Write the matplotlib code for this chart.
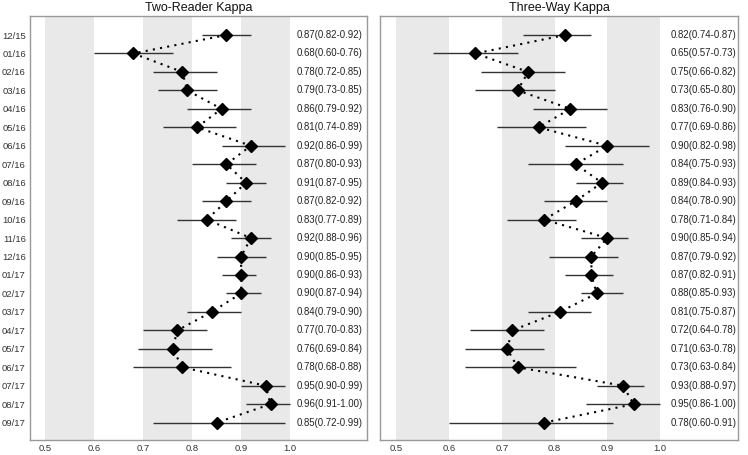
import matplotlib.pyplot as plt

plt.rcParams['font.family'] = ['Liberation Sans', 'DejaVu Sans']

months = ['12/15', '01/16', '02/16', '03/16', '04/16', '05/16', '06/16', '07/16', '08/16', '09/16', '10/16',
          '11/16', '12/16', '01/17', '02/17', '03/17', '04/17', '05/17', '06/17', '07/17', '08/17', '09/17']

two_est = [0.87, 0.68, 0.78, 0.79, 0.86, 0.81, 0.92, 0.87, 0.91, 0.87, 0.83,
           0.92, 0.90, 0.90, 0.90, 0.84, 0.77, 0.76, 0.78, 0.95, 0.96, 0.85]
two_low = [0.82, 0.60, 0.72, 0.73, 0.79, 0.74, 0.86, 0.80, 0.87, 0.82, 0.77,
           0.88, 0.85, 0.86, 0.87, 0.79, 0.70, 0.69, 0.68, 0.90, 0.91, 0.72]
two_high = [0.92, 0.76, 0.85, 0.85, 0.92, 0.89, 0.99, 0.93, 0.95, 0.92, 0.89,
            0.96, 0.95, 0.93, 0.94, 0.90, 0.83, 0.84, 0.88, 0.99, 1.00, 0.99]

three_est = [0.82, 0.65, 0.75, 0.73, 0.83, 0.77, 0.90, 0.84, 0.89, 0.84, 0.78,
             0.90, 0.87, 0.87, 0.88, 0.81, 0.72, 0.71, 0.73, 0.93, 0.95, 0.78]
three_low = [0.74, 0.57, 0.66, 0.65, 0.76, 0.69, 0.82, 0.75, 0.84, 0.78, 0.71,
             0.85, 0.79, 0.82, 0.85, 0.75, 0.64, 0.63, 0.63, 0.88, 0.86, 0.60]
three_high = [0.87, 0.73, 0.82, 0.80, 0.90, 0.86, 0.98, 0.93, 0.93, 0.90, 0.84,
              0.94, 0.92, 0.91, 0.93, 0.87, 0.78, 0.78, 0.84, 0.97, 1.00, 0.91]

ticks = [0.5, 0.6, 0.7, 0.8, 0.9, 1.0]
bands = [(0.5, 0.6), (0.7, 0.8), (0.9, 1.0)]

W, H = 748, 455
fig = plt.figure(figsize=(W / 100, H / 100), dpi=100)


def panel(rect, title, est, low, high, xmax, text_x, show_labels):
    ax = fig.add_axes(rect)
    rows = list(range(len(months)))
    for a, b in bands:
        ax.axvspan(a, b, color='#e9e9e9', lw=0, zorder=0)
    ax.hlines(rows, low, high, color='#333333', lw=1.0, zorder=2)
    ax.plot(est, rows, color='black', linestyle=(0, (1, 2.5)), lw=1.5, zorder=3)
    ax.plot(est, rows, linestyle='none', marker='D', color='black', markersize=6.5, zorder=4)
    for i in rows:
        ax.text(text_x, i, f'{est[i]:.2f}({low[i]:.2f}-{high[i]:.2f})', va='center', ha='left',
                fontsize=6.9, color='#222222')
    ax.set_xlim(0.469, xmax)
    ax.set_ylim(len(months) - 0.06, -1.03)
    ax.set_xticks(ticks)
    ax.set_xticklabels([f'{t:.1f}' for t in ticks])
    ax.set_yticks(rows)
    if show_labels:
        ax.set_yticklabels(months)
    else:
        ax.set_yticklabels([])
    ax.tick_params(length=0, labelsize=6.8, colors='#333333', pad=3)
    for s in ax.spines.values():
        s.set_color('#999999')
        s.set_linewidth(1.0)
    ax.set_title(title, fontsize=9.0, color='#111111', pad=3.5)
    return ax


bottom = (H - 440) / H
height = (440 - 16) / H
panel([30 / W, bottom, (367 - 30) / W, height], 'Two-Reader Kappa', two_est, two_low, two_high, 1.157, 1.013, True)
panel([380 / W, bottom, (738 - 380) / W, height], 'Three-Way Kappa', three_est, three_low, three_high, 1.148, 1.020, False)

fig.savefig('out.png', dpi=100)
